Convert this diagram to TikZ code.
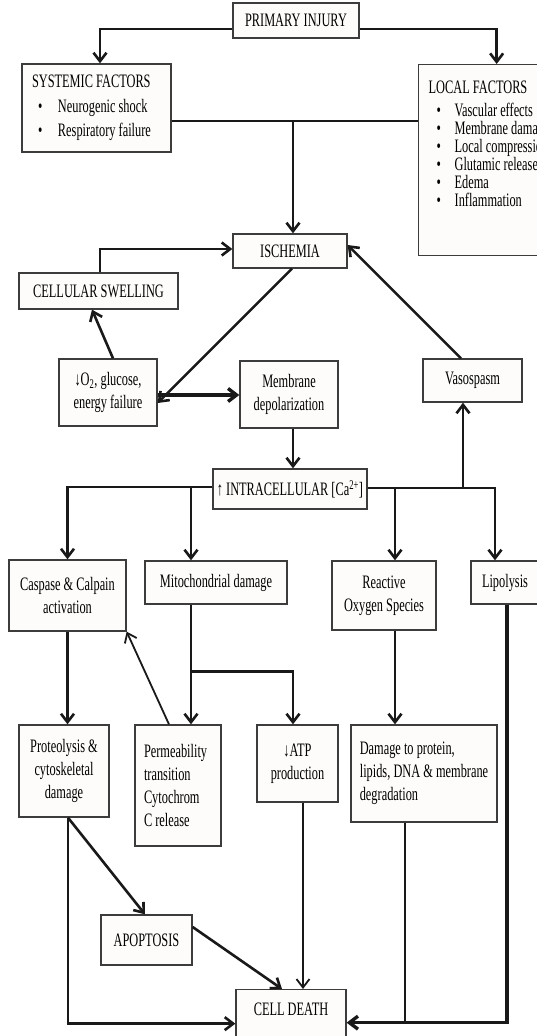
\documentclass[tikz,border=0pt]{standalone}
\usepackage{fontspec}
\setmainfont{Liberation Serif}[FakeStretch=0.65]
\usetikzlibrary{arrows.meta,calc}

\definecolor{boxfill}{RGB}{253,252,250}
\definecolor{boxline}{RGB}{60,60,60}
\newcommand{\itm}[2][6pt]{\hspace*{#1}\makebox[\dimexpr26pt-#1\relax][l]{\textbullet}#2}

\begin{document}
\begin{tikzpicture}[x=1pt,y=-1pt,
    box/.style={draw=boxline,fill=boxfill,line width=1.3pt,inner sep=0pt,
        font=\fontsize{19}{23}\selectfont,align=center},
    ltext/.style={align=left,execute at begin node={\spaceskip=0pt\xspaceskip=0pt}},
    conn/.style={line width=2.6pt,draw=black!90},
    arr/.style={conn,-{Straight Barb[length=8.5pt,width=13pt]}},
    slim/.style={line width=1.8pt}]

    \useasboundingbox (0,0) rectangle (537,1036);
    \clip (0,0) rectangle (537,1036);

    \node[box,minimum width=126pt,minimum height=35pt] (prim) at (296,20.5) {PRIMARY INJURY};
    \node[box,ltext,minimum width=149pt,minimum height=88pt,text width=129pt,
        font=\fontsize{19}{24.5}\selectfont] (sys) at (96.5,108)
        {SYSTEMIC FACTORS\\ \itm{Neurogenic shock}\\ \itm{Respiratory failure}};
    \node[box,anchor=north west,inner xsep=10pt,inner ysep=16pt] (loc) at (418,64)
        {\parbox[t][159pt][t]{136pt}{\fontsize{19}{18}\selectfont
        LOCAL FACTORS\\[5pt]
        \itm[8pt]{Vascular effects}\\
        \itm[8pt]{Membrane damage}\\
        \itm[8pt]{Local compression}\\
        \itm[8pt]{Glutamic release}\\
        \itm[8pt]{Edema}\\
        \itm[8pt]{Inflammation}}};

    \node[box,minimum width=114pt,minimum height=34pt] (isch) at (290,251) {ISCHEMIA};
    \node[box,minimum width=159pt,minimum height=36pt] (cell) at (98.5,291) {CELLULAR SWELLING};
    \node[box,minimum width=98pt,minimum height=67pt] (oxy) at (108,392.5)
        {↓O\textsubscript{2}, glucose,\\energy failure};
    \node[box,minimum width=98pt,minimum height=67pt] (memb) at (289,394.5)
        {Membrane\\depolarization};
    \node[box,minimum width=99pt,minimum height=43pt] (vaso) at (472.5,380.5) {Vasospasm};
    \node[box,minimum width=154pt,minimum height=40pt] (intra) at (290,489)
        {↑ INTRACELLULAR [Ca\textsuperscript{2+}]};

    \node[box,minimum width=117pt,minimum height=71pt] (casp) at (67.5,595.5)
        {Caspase \& Calpain\\activation};
    \node[box,minimum width=142pt,minimum height=43pt] (mito) at (216,582.5) {Mitochondrial damage};
    \node[box,minimum width=104pt,minimum height=69pt] (ros) at (384,595.5)
        {Reactive\\Oxygen Species};
    \node[box,minimum width=68pt,minimum height=43pt] (lipo) at (505,582.5) {Lipolysis};

    \node[box,minimum width=90pt,minimum height=92pt] (prot) at (64,771)
        {Proteolysis \&\\cytoskeletal\\damage};
    \node[box,ltext,minimum width=86pt,minimum height=121pt,text width=68pt] (perm) at (178,785.5)
        {Permeability\\transition\\Cytochrom\\C release};
    \node[box,minimum width=81pt,minimum height=77pt] (atp) at (297.5,763.5) {↓ATP\\production};
    \node[box,align=left,minimum width=146pt,minimum height=97pt] (dmg) at (424,773.5)
        {Damage to protein,\\lipids,\,DNA \& membrane\\degradation};
    \node[box,minimum width=91pt,minimum height=50pt] (apop) at (146.5,940) {APOPTOSIS};
    \node[box,minimum width=110pt,anchor=north,text height=13pt,text depth=45pt,inner ysep=13pt]
        (death) at (291,989) {CELL DEATH};

    % injury and factors
    \draw[arr] ($(prim.west)+(0,8.5)$) -| ($(sys.north)+(3.5,0)$);
    \draw[arr] ($(prim.east)+(0,8.5)$) -| (loc.north);
    \coordinate (sysl) at ($(sys.east)+(0,13)$);
    \draw[conn] (sysl) -- (sysl -| loc.west);
    \draw[arr] ($(sysl -| isch.north)+(3,0)$) -- ($(isch.north)+(3,0)$);

    % ischemia loop
    \draw[arr] ($(cell.north)+(1.5,0)$) |- ($(isch.west)+(0,-2)$);
    \draw[arr] ($(oxy.north)+(5,0)$) -- ($(cell.south)+(-6.5,0)$);
    \draw[arr] ($(isch.south)+(2,0)$) -- ($(oxy.east)+(0,10.5)$);
    \draw[arr,line width=3.4pt] ($(oxy.east)+(0,2.5)$) -- ($(memb.west)+(0,0.5)$);
    \draw[arr] ($(vaso.north)+(-11.5,0)$) -- ($(isch.east)+(0,-6)$);
    \draw[arr] ($(memb.south)+(4,0)$) -- ($(memb.south |- intra.north)+(4,0)$);

    % calcium branches
    \coordinate (cr) at ($(intra.east)+(0,-1)$);
    \draw[arr] (cr) -| ($(lipo.north)+(-10,0)$);
    \draw[arr] ($(cr -| ros.north)+(11,0)$) -- ($(ros.north)+(11,0)$);
    \draw[arr] ($(cr -| vaso.south)+(-9.5,0)$) -- ($(vaso.south)+(-9.5,0)$);
    \coordinate (cl) at ($(intra.west)+(0,-2)$);
    \draw[arr] (cl) -| (casp.north);
    \draw[arr] ($(cl -| mito.north)+(-25,0)$) -- ($(mito.north)+(-25,0)$);

    % mitochondria
    \draw[arr] ($(mito.south)+(-25,0)$) -- ($(mito.south |- perm.north)+(-25,0)$);
    \coordinate (mj) at ($(mito.south)+(-25,67)$);
    \draw[arr] (mj) -| ($(atp.north)+(-4.5,0)$);
    \draw[arr,slim] ($(perm.north)+(-9,0)$) -- (casp.south east);
    \draw[arr] (casp.south) -- (casp.south |- prot.north);
    \draw[arr] ($(ros.south)+(11,0)$) -- ($(ros.south |- dmg.north)+(11,0)$);

    % cell death
    \draw[arr] ($(prot.south)+(4,0)$) |- ($(death.west)+(0,-8)$);
    \draw[arr] ($(prot.south)+(4,0)$) -- ($(apop.north)+(-1.5,0)$);
    \draw[arr] ($(apop.east)+(0,-13)$) -- ($(death.north)+(-9,0)$);
    \draw[arr,slim] ($(atp.south)+(5.5,0)$) -- ($(atp.south |- death.north)+(5.5,0)$);
    \coordinate (dr) at ($(death.east)+(0,-9)$);
    \draw[arr,line width=3.4pt] ($(lipo.south)+(2,0)$) |- (dr);
    \draw[conn,slim] ($(dmg.south)+(-19,0)$) -- ($(dmg.south |- dr)+(-19,0)$);
\end{tikzpicture}
\end{document}
